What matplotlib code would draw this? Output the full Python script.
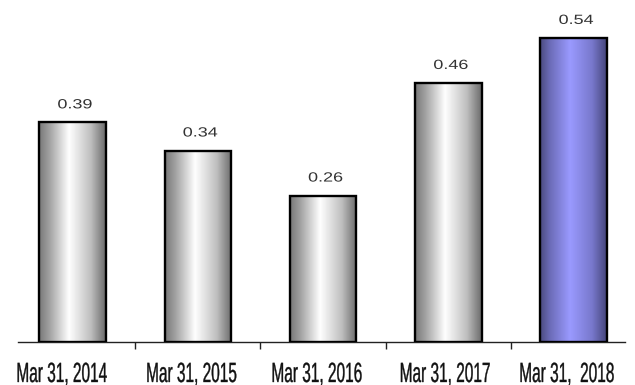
import numpy as np
import matplotlib
matplotlib.use("Agg")
from matplotlib import pyplot as plt
from matplotlib.colors import LinearSegmentedColormap
from matplotlib.patches import Rectangle
from matplotlib.patheffects import AbstractPathEffect
from matplotlib.transforms import Affine2D, offset_copy

labels = ["Mar 31, 2014", "Mar 31, 2015", "Mar 31, 2016", "Mar 31, 2017", "Mar 31,  2018"]
values = [0.39, 0.34, 0.26, 0.46, 0.54]
highlight = [False, False, False, False, True]


class Stretch(AbstractPathEffect):
    # squeeze / widen the glyphs horizontally around their centre, optional thickening
    def __init__(self, sx, lw=0.0):
        super().__init__()
        self.sx = sx
        self.lw = lw

    def draw_path(self, renderer, gc, tpath, affine, rgbFace=None):
        ext = tpath.get_extents()
        cx = (ext.x0 + ext.x1) / 2
        t = Affine2D().translate(-cx, 0).scale(self.sx, 1).translate(cx, 0)
        gc0 = renderer.new_gc()
        gc0.copy_properties(gc)
        if self.lw > 0 and rgbFace is not None:
            gc0.set_linewidth(self.lw)
            gc0.set_foreground(rgbFace)
        renderer.draw_path(gc0, tpath, t + affine, rgbFace)
        gc0.restore()


gray_cm = LinearSegmentedColormap.from_list(
    "g", [(0, "#787878"), (0.15, "#a0a0a0"), (0.45, "#ffffff"), (0.78, "#bdbdbd"), (1, "#6a6a6a")])
blue_cm = LinearSegmentedColormap.from_list(
    "b", [(0, "#4a4a7e"), (0.15, "#6c6cb8"), (0.45, "#9a9aff"), (0.78, "#7878cc"), (1, "#45457a")])

fig = plt.figure(figsize=(6.35, 3.85), dpi=100)
ax = fig.add_axes([18 / 635, 1 - 342 / 385, 607 / 635, 330 / 385])

width = 0.53
x = np.arange(len(values))
grad = np.linspace(0, 1, 256)[None, :]
for xi, v, hl in zip(x, values, highlight):
    left = xi - width / 2
    im = ax.imshow(grad, cmap=blue_cm if hl else gray_cm, aspect="auto",
                   extent=[left, left + width, 0, v], zorder=2, interpolation="bilinear")
    rect = Rectangle((left, 0), width, v, facecolor="none", edgecolor="black", lw=1.7, zorder=3)
    ax.add_patch(rect)
    im.set_clip_path(rect)
    ax.text(xi + 0.02, v + 0.025, f"{v:.2f}", ha="center", va="baseline", fontsize=9.6,
            color="#333333", family="Liberation Sans", path_effects=[Stretch(1.35)])

ax.set_xlim(-0.435, 4.41)
ax.set_ylim(0, 330 / 563)
for s in ["top", "right", "left"]:
    ax.spines[s].set_visible(False)
ax.spines["bottom"].set_linewidth(1.0)
ax.spines["bottom"].set_color("#222222")
ax.set_yticks([])
ax.set_xticks(x[:-1] + 0.5)
ax.set_xticklabels([])
ax.tick_params(axis="x", length=5, width=1, direction="out", color="#222222")

label_shift = [-11, -6.5, -6.5, -3.5, -7]   # pixels
for xi, lab, dx in zip(x, labels, label_shift):
    tr = offset_copy(ax.transData, fig=fig, x=dx, y=0, units="dots")
    ax.text(xi, -40 / 563, lab, ha="center", va="baseline", fontsize=20,
            family="Liberation Sans", color="#111111", transform=tr,
            path_effects=[Stretch(0.555, lw=0.25)], clip_on=False)

fig.savefig("out.png", dpi=100)
